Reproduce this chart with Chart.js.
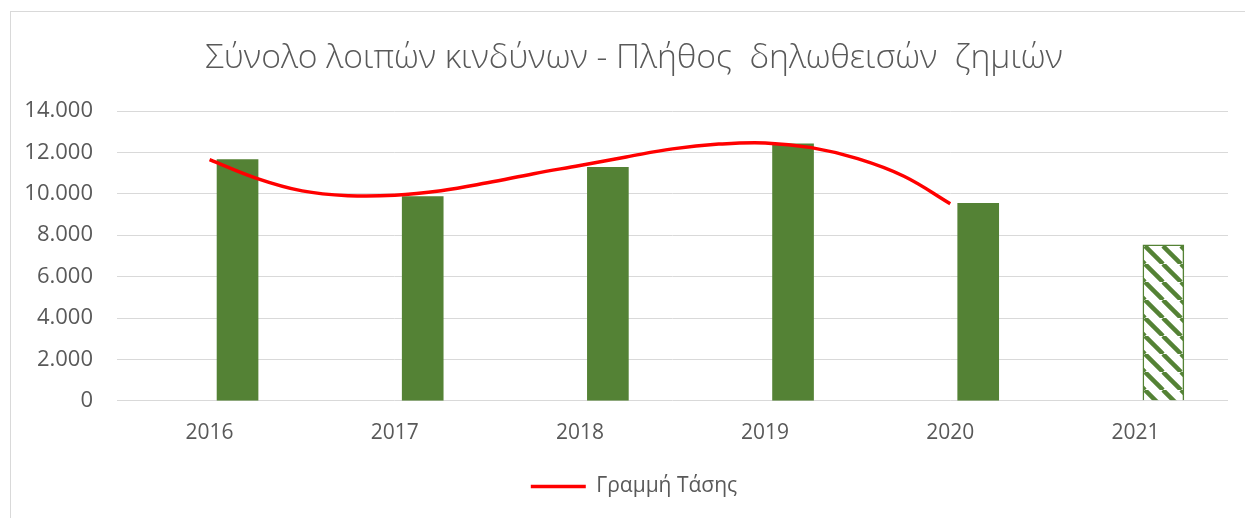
<!DOCTYPE html>
<html>
<head>
<meta charset="utf-8">
<script src="https://cdn.jsdelivr.net/npm/chart.js@4"></script>
<style>
    html, body { margin: 0; padding: 0; background: #fff; overflow: hidden; }
    body { width: 1245px; height: 518px; position: relative; }
    .frame {
        position: absolute; left: 10px; top: 11px;
        width: 1300px; height: 600px;
        border: 1px solid #d9d9d9;
    }
    .wrap { position: absolute; left: 11px; top: 12px; width: 1246px; height: 495px; }
</style>
</head>
<body>
<div class="frame"></div>
<div class="wrap"><canvas id="chart"></canvas></div>
<script>
// Data
const years = ['2016', '2017', '2018', '2019', '2020', '2021'];
const claims = [11650, 9860, 11280, 12420, 9540, 7530];
// trend line, x = category index
const trendX = [0, 0.25, 0.5, 0.75, 1, 1.25, 1.5, 1.75, 2, 2.25, 2.5, 2.75, 3, 3.25, 3.5, 3.75, 4];
const trendValues = [11650, 10760, 10140, 9910, 9930, 10150, 10530, 10970, 11370, 11780, 12170, 12400, 12460, 12230, 11700, 10850, 9520];
const trendLabel = 'Γραμμή Τάσης';
const chartTitle = 'Σύνολο λοιπών κινδύνων - Πλήθος  δηλωθεισών  ζημιών';

const green = '#548235';
const textColor = '#595959';
const fontFamily = '"Open Sans", "DejaVu Sans", sans-serif';
const barShift = 0.151; // bars sit right of the category centre, like Excel's clustered layout

// hatch pattern for the last (estimated) year
function makeHatch() {
    const size = 18;
    const c = document.createElement('canvas');
    c.width = size;
    c.height = size;
    const g = c.getContext('2d');
    g.fillStyle = '#fff';
    g.fillRect(0, 0, size, size);
    g.strokeStyle = green;
    g.lineWidth = 4.5;
    [-size, 0, size].forEach(off => {
        g.beginPath();
        g.moveTo(off, 0);
        g.lineTo(off + size, size);
        g.stroke();
    });
    return g.createPattern(c, 'repeat');
}
const hatch = makeHatch();

// fit the title font to the reference title width
function titleSize(text, target) {
    const g = document.createElement('canvas').getContext('2d');
    g.font = '300 100px ' + fontFamily;
    return Math.round(100 * target / g.measureText(text).width * 10) / 10;
}
const titleFont = titleSize(chartTitle, 858);
const titleTop = 58 - 12 - titleFont * 0.6;

const barColors = claims.map((v, i) => i === claims.length - 1 ? hatch : green);
const barBorders = claims.map((v, i) => i === claims.length - 1 ? 1.5 : 0);

const ctx = document.getElementById('chart').getContext('2d');
new Chart(ctx, {
    type: 'bar',
    data: {
        labels: years,
        datasets: [
            {
                type: 'line',
                label: trendLabel,
                data: trendX.map((x, i) => ({ x: x, y: trendValues[i] })),
                xAxisID: 'xv',
                borderColor: '#ff0000',
                backgroundColor: '#ff0000',
                borderWidth: 3.5,
                pointRadius: 0,
                tension: 0.4,
                fill: false
            },
            {
                label: 'Πλήθος',
                data: claims.map((v, i) => ({ x: i + barShift, y: v })),
                xAxisID: 'xv',
                backgroundColor: barColors,
                borderColor: green,
                borderWidth: barBorders,
                barThickness: 41,
                grouped: false
            }
        ]
    },
    options: {
        responsive: true,
        maintainAspectRatio: false,
        animation: false,
        layout: { padding: 0 },
        plugins: {
            title: {
                display: true,
                text: chartTitle,
                color: textColor,
                font: { family: fontFamily, size: titleFont, weight: 300, lineHeight: 1.2 },
                padding: { top: titleTop, bottom: 99 - titleTop - titleFont * 1.2 }
            },
            legend: {
                position: 'bottom',
                labels: {
                    filter: item => item.datasetIndex === 0,
                    usePointStyle: true,
                    pointStyle: 'line',
                    pointStyleWidth: 55,
                    color: textColor,
                    font: { family: fontFamily, size: 21 },
                    padding: 10
                }
            },
            tooltip: { enabled: false }
        },
        scales: {
            x: {
                grid: { display: false, drawTicks: false },
                border: { display: false },
                ticks: {
                    color: textColor,
                    font: { family: fontFamily, size: 21 },
                    padding: 20
                }
            },
            xv: {
                type: 'linear',
                display: false,
                offset: false,
                grid: { offset: false },
                min: -0.5,
                max: 5.5
            },
            y: {
                min: 0,
                max: 14000,
                grid: { color: '#d9d9d9', lineWidth: 1, drawTicks: false },
                border: { display: false },
                ticks: {
                    stepSize: 2000,
                    color: textColor,
                    font: { family: fontFamily, size: 22 },
                    padding: 24,
                    callback: v => String(v).replace(/\B(?=(\d{3})+(?!\d))/g, '.')
                },
                afterFit: scale => { scale.width = 106; }
            },
            // empty right-hand strip so the title and legend stay centred on the whole frame
            yPad: {
                position: 'right',
                grid: { display: false, drawTicks: false },
                border: { display: false },
                ticks: { display: false },
                afterFit: scale => { scale.width = 29; }
            }
        }
    }
});
</script>
</body>
</html>
